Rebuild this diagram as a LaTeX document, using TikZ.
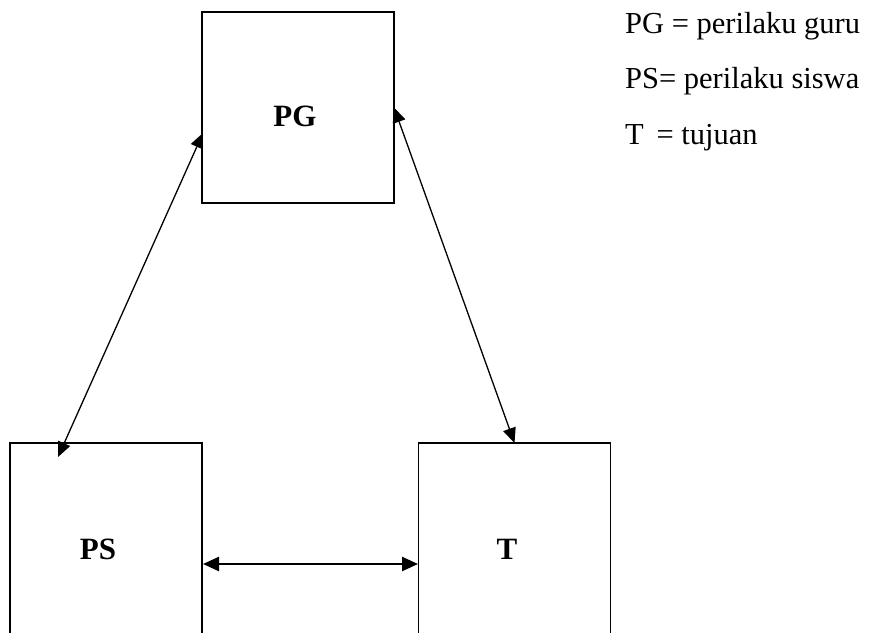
\documentclass[tikz,border=0pt]{standalone}
\usepackage{fontspec}
\setmainfont{Liberation Serif}
\usetikzlibrary{arrows.meta}
\begin{document}
\begin{tikzpicture}[x=1pt,y=-1pt,
  box/.style={draw=black,line width=1.5pt,minimum width=192pt,inner sep=0pt,outer sep=0pt},
  lbl/.style={font=\fontsize{31}{36}\selectfont\bfseries,inner sep=0pt},
  leg/.style={font=\fontsize{30.5}{36}\selectfont,anchor=base west,inner sep=0pt},
  conn/.style={line width=1.3pt,{Triangle[length=15pt,width=13pt]}-{Triangle[length=15pt,width=13pt]}},
  hconn/.style={line width=2.5pt,{Triangle[length=16pt,width=14pt]}-{Triangle[length=16pt,width=14pt]}}]
\useasboundingbox (0,0) rectangle (875,632);
\clip (0,0) rectangle (875,632);
\node[box,minimum height=191pt] (PG) at (298,107.5) {};
\node[box,minimum height=220pt] (PS) at (106,553) {};
\node[box,minimum height=220pt] (T) at (514.5,553) {};
\node[lbl] (PGt) at (295,116) {PG};
\node[lbl] (PSt) at (98,549) {PS};
\node[lbl] (Tt) at (507,549) {T};
\coordinate (a1) at (203,133);
\coordinate (a2) at (58,457);
\coordinate (h1) at (203,564);
\coordinate (h2) at (418,564);
\draw[conn] (a1) -- (a2);
\draw[conn] (PG.east) -- (T.north);
\draw[hconn] (h1) -- (h2);
\node[leg] (L1) at (625,33) {PG = perilaku guru};
\node[leg] (L2) at (625,88) {PS= perilaku siswa};
\node[leg] (L3) at (625,144) {T\,\ = tujuan};
\end{tikzpicture}
\end{document}
